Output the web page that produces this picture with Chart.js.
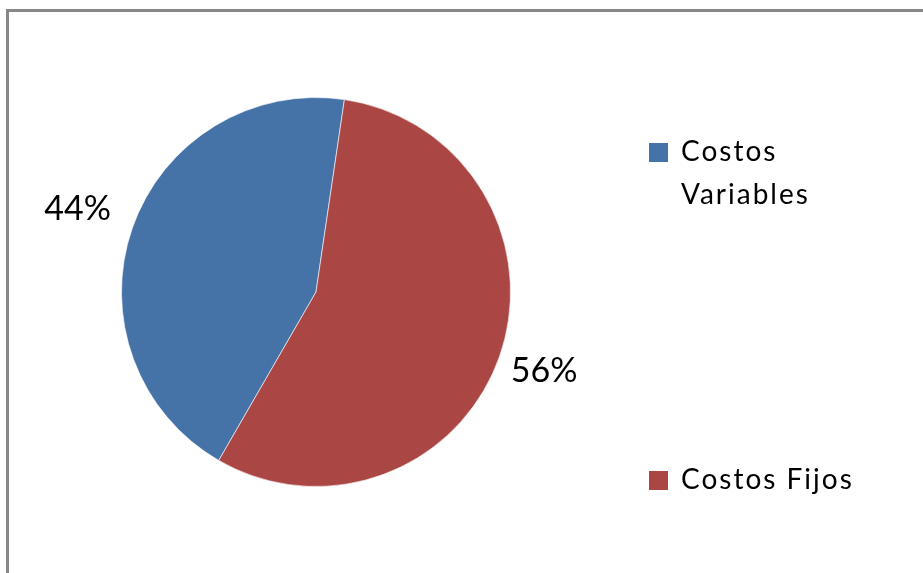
<!DOCTYPE html>
<html>
<head>
<meta charset="utf-8">
<script src="https://cdn.jsdelivr.net/npm/chart.js@4.4.1/dist/chart.umd.min.js"></script>
<style>
    html, body { margin: 0; padding: 0; background: #fff; overflow: hidden; }
    #wrap { position: relative; width: 923px; height: 573px; }
    #frame {
        position: absolute; left: 6px; top: 9px;
        width: 1000px; height: 1000px;
        border: 3px solid #878787;
    }
    #costChart { position: absolute; left: 0; top: 0; }
</style>
</head>
<body>
<div id="wrap">
    <div id="frame"></div>
    <canvas id="costChart" width="923" height="573"></canvas>
</div>
<script>
const categories = ['Costos Variables', 'Costos Fijos'];
const shares = [44, 56];
const sliceColors = ['#4572A7', '#AA4643'];

const FONT = 'Lato, "Open Sans", sans-serif';

// percentage labels outside each slice, at the slice's mid angle
const outsideLabels = {
    id: 'outsideLabels',
    afterDatasetsDraw(chart) {
        const ctx = chart.ctx;
        const meta = chart.getDatasetMeta(0);
        const total = shares.reduce((a, b) => a + b, 0);
        const gaps = [58, 47];
        ctx.save();
        ctx.font = '34px ' + FONT;
        ctx.fillStyle = '#000';
        ctx.textAlign = 'center';
        ctx.textBaseline = 'middle';
        meta.data.forEach((arc, i) => {
            const mid = (arc.startAngle + arc.endAngle) / 2;
            const r = arc.outerRadius + gaps[i];
            const x = arc.x + Math.cos(mid) * r;
            const y = arc.y + Math.sin(mid) * r;
            ctx.fillText(Math.round(shares[i] / total * 100) + '%', x, y);
        });
        ctx.restore();
    }
};

// legend on the right, items spread down the side
const sideLegend = {
    id: 'sideLegend',
    afterDraw(chart) {
        const ctx = chart.ctx;
        const rows = [[['Costos', 'Variables'], 152], [['Costos Fijos'], 480]];
        ctx.save();
        ctx.font = '28px ' + FONT;
        ctx.letterSpacing = '2px';
        ctx.textBaseline = 'middle';
        rows.forEach(([lines, y], i) => {
            ctx.fillStyle = sliceColors[i];
            ctx.fillRect(649, y - 9, 19, 19);
            ctx.fillStyle = '#000';
            lines.forEach((t, j) => ctx.fillText(t, 681, y + j * 43));
        });
        ctx.restore();
    }
};

new Chart(document.getElementById('costChart').getContext('2d'), {
    type: 'pie',
    data: {
        labels: categories,
        datasets: [{
            data: shares,
            backgroundColor: sliceColors,
            borderColor: 'rgba(255,255,255,0.6)',
            borderWidth: 1
        }]
    },
    options: {
        responsive: false,
        animation: false,
        rotation: 210,
        layout: { padding: { left: 121, top: 97, right: 412, bottom: 86 } },
        plugins: {
            legend: { display: false },
            tooltip: { enabled: false }
        }
    },
    plugins: [outsideLabels, sideLegend]
});
</script>
</body>
</html>
